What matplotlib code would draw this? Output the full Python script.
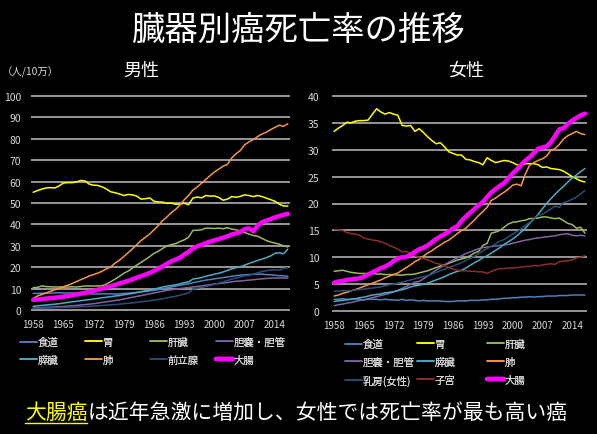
import matplotlib
matplotlib.use('Agg')
import matplotlib.pyplot as plt
from matplotlib.lines import Line2D

plt.rcParams['font.family'] = ['Noto Sans CJK JP', 'DejaVu Sans']

years = list(range(1958, 2018))
tick_years = [1958, 1965, 1972, 1979, 1986, 1993, 2000, 2007, 2014]

# ---------------- Male (人/10万) ----------------
male_esophagus = [7.8, 7.8, 7.9, 7.9, 8.0, 8.0, 8.1, 8.0, 8.0, 8.0,
                  7.9, 7.8, 7.7, 7.6, 7.5, 7.5, 7.6, 7.6, 7.6, 7.5,
                  7.6, 7.8, 7.9, 8.1, 8.3, 8.5, 8.7, 9.0, 9.2, 9.6,
                  10.0, 10.4, 10.8, 11.2, 11.6, 12.0, 12.3, 12.8, 13.2, 13.6,
                  14.0, 14.3, 14.6, 14.9, 15.2, 15.5, 15.8, 16.1, 16.3, 16.5,
                  16.6, 16.7, 16.8, 16.8, 16.6, 16.5, 16.3, 16.1, 16.0, 15.8]
male_stomach = [55.0, 55.8, 56.5, 57.0, 57.2, 57.0, 58.0, 59.3, 59.5, 59.5,
                59.8, 60.5, 60.3, 58.8, 58.3, 58.2, 57.5, 56.5, 55.2, 54.8,
                54.2, 53.5, 54.0, 53.8, 53.2, 51.8, 52.0, 52.4, 50.8, 50.5,
                50.4, 49.8, 50.0, 49.4, 49.5, 49.9, 49.2, 52.3, 52.8, 52.4,
                53.5, 53.2, 53.3, 52.6, 51.3, 51.8, 53.0, 52.7, 53.1, 53.8,
                53.5, 53.0, 53.5, 53.0, 52.3, 51.6, 50.8, 49.5, 48.6, 48.6]
male_liver = [10.5, 10.6, 11.3, 11.0, 10.9, 10.8, 10.8, 10.7, 10.8, 10.9,
              10.8, 11.0, 11.3, 11.3, 11.2, 11.3, 11.4, 12.2, 13.3, 14.5,
              15.8, 17.2, 18.2, 19.6, 21.0, 22.3, 23.6, 25.0, 26.5, 27.5,
              28.8, 30.0, 30.6, 31.0, 32.0, 32.8, 34.0, 37.2, 37.3, 37.5,
              38.3, 38.2, 38.1, 38.3, 38.0, 38.5, 37.8, 37.5, 37.0, 36.2,
              35.5, 34.8, 34.5, 33.5, 32.5, 31.8, 31.3, 30.8, 30.0, 29.5]
male_gallbladder = [1.0, 1.1, 1.2, 1.3, 1.4, 1.5, 1.6, 1.7, 1.9, 2.0,
                    2.2, 2.4, 2.6, 2.8, 3.0, 3.3, 3.6, 3.9, 4.2, 4.5,
                    4.8, 5.2, 5.6, 6.0, 6.4, 6.8, 7.2, 7.6, 8.0, 8.4,
                    8.8, 9.2, 9.5, 9.8, 10.0, 10.3, 10.5, 10.8, 11.0, 11.3,
                    11.6, 11.9, 12.2, 12.4, 12.6, 12.9, 13.2, 13.5, 13.6, 13.8,
                    14.0, 14.2, 14.4, 14.6, 14.8, 14.9, 15.0, 15.0, 15.0, 15.0]
male_pancreas = [1.8, 2.0, 2.2, 2.4, 2.6, 2.8, 3.0, 3.3, 3.6, 3.9,
                 4.1, 4.4, 4.7, 4.9, 5.2, 5.5, 5.8, 6.0, 6.3, 6.6,
                 6.8, 7.2, 7.5, 7.8, 8.2, 8.6, 9.0, 9.4, 9.8, 10.3,
                 10.8, 11.2, 11.5, 11.8, 12.3, 12.8, 13.2, 14.5, 14.8, 15.2,
                 15.8, 16.3, 16.8, 17.2, 17.8, 18.5, 19.3, 19.8, 20.3, 21.0,
                 21.8, 22.5, 23.2, 23.8, 24.5, 25.3, 26.5, 26.8, 26.3, 28.5]
male_lung = [5.5, 6.6, 7.3, 8.0, 8.8, 9.5, 10.2, 10.9, 11.6, 12.4,
             13.3, 14.2, 15.0, 16.0, 16.6, 17.3, 18.2, 19.3, 20.2, 22.0,
             23.3, 25.0, 26.8, 28.6, 30.5, 32.5, 34.0, 35.5, 37.5, 39.5,
             41.8, 43.5, 45.5, 47.0, 49.0, 51.5, 53.5, 56.0, 57.5, 59.2,
             61.0, 62.8, 64.5, 65.8, 67.2, 68.0, 71.0, 73.0, 74.5, 77.2,
             78.5, 79.6, 81.0, 82.2, 83.0, 84.2, 85.3, 86.3, 85.8, 87.0]
male_prostate = [0.8, 0.9, 0.9, 1.0, 1.0, 1.1, 1.2, 1.3, 1.3, 1.4,
                 1.5, 1.6, 1.7, 1.8, 1.9, 2.0, 2.2, 2.3, 2.5, 2.6,
                 2.8, 3.0, 3.2, 3.4, 3.6, 3.9, 4.1, 4.4, 4.7, 5.0,
                 5.3, 5.7, 6.1, 6.5, 7.0, 7.5, 8.0, 9.8, 10.3, 10.6,
                 11.0, 11.5, 12.0, 12.6, 13.2, 13.8, 14.5, 15.0, 15.5, 16.0,
                 16.2, 16.8, 17.5, 18.0, 18.4, 18.8, 18.8, 18.6, 19.5, 19.8]
male_colorectal = [4.8, 5.0, 5.2, 5.4, 5.6, 5.8, 6.0, 6.3, 6.6, 6.9,
                   7.3, 7.7, 8.1, 8.6, 9.0, 9.6, 10.1, 10.6, 11.2, 11.8,
                   12.5, 13.0, 13.7, 14.4, 15.2, 15.9, 16.6, 17.4, 18.3, 19.3,
                   20.5, 21.7, 22.8, 23.6, 24.5, 26.0, 27.2, 28.8, 29.8, 30.5,
                   31.3, 32.0, 32.6, 33.2, 33.8, 34.5, 35.3, 35.8, 36.5, 37.8,
                   38.2, 36.8, 39.5, 41.0, 41.8, 42.5, 43.3, 43.9, 44.5, 45.0]

# ---------------- Female (人/10万) ----------------
female_esophagus = [2.2, 2.2, 2.3, 2.2, 2.2, 2.3, 2.2, 2.1, 2.2, 2.2,
                    2.2, 2.1, 2.2, 2.1, 2.1, 2.0, 2.2, 2.0, 2.1, 2.0,
                    1.9, 2.0, 1.9, 1.9, 1.9, 1.9, 1.8, 1.8, 1.8, 1.9,
                    1.9, 1.9, 2.0, 2.0, 2.0, 2.1, 2.1, 2.2, 2.2, 2.3,
                    2.4, 2.4, 2.5, 2.5, 2.6, 2.6, 2.7, 2.6, 2.7, 2.7,
                    2.8, 2.8, 2.8, 2.9, 2.9, 2.9, 3.0, 3.0, 3.0, 3.0]
female_stomach = [33.4, 34.0, 34.5, 35.1, 35.0, 35.3, 35.4, 35.4, 35.5, 36.6,
                  37.6, 37.0, 36.6, 36.9, 36.6, 36.4, 34.5, 34.4, 34.5, 33.4,
                  33.9, 33.2, 32.4, 31.7, 31.1, 31.3, 30.5, 29.6, 29.3, 29.0,
                  29.0, 28.2, 28.1, 27.8, 27.6, 27.2, 28.5, 28.0, 27.6, 27.8,
                  28.0, 27.9, 27.6, 27.2, 27.0, 27.4, 27.4, 27.4, 27.2, 26.7,
                  26.8, 26.5, 26.4, 26.3, 26.0, 25.5, 25.0, 24.6, 24.2, 24.0]
female_liver = [7.4, 7.5, 7.6, 7.4, 7.2, 7.1, 7.0, 7.0, 7.0, 7.0,
                6.9, 6.9, 6.8, 6.8, 6.8, 6.7, 6.7, 6.8, 6.8, 6.9,
                7.1, 7.3, 7.5, 7.8, 8.1, 8.4, 8.6, 8.9, 9.2, 9.5,
                9.7, 9.9, 10.3, 10.8, 11.1, 12.2, 12.6, 14.5, 14.7, 15.0,
                15.6, 16.2, 16.5, 16.6, 16.8, 16.9, 17.2, 17.2, 17.3, 17.5,
                17.5, 17.3, 17.2, 17.3, 16.8, 16.3, 16.1, 15.4, 15.6, 14.5]
female_gallbladder = [1.0, 1.2, 1.3, 1.5, 1.6, 1.8, 2.0, 2.1, 2.3, 2.5,
                      2.7, 2.9, 3.1, 3.3, 3.6, 3.9, 4.2, 4.6, 5.0, 5.4,
                      5.5, 6.0, 6.5, 7.1, 7.6, 8.1, 8.6, 9.1, 9.5, 9.9,
                      10.3, 10.7, 11.0, 11.3, 11.6, 11.8, 11.9, 12.0, 12.1, 12.2,
                      12.3, 12.4, 12.6, 12.8, 13.0, 13.2, 13.3, 13.5, 13.6, 13.7,
                      13.8, 13.9, 14.0, 14.2, 14.3, 14.4, 14.1, 14.0, 14.1, 14.0]
female_pancreas = [1.8, 1.9, 2.0, 2.1, 2.2, 2.3, 2.5, 2.6, 2.8, 3.0,
                   3.1, 3.2, 3.4, 3.5, 3.6, 3.8, 4.0, 4.2, 4.5, 4.7,
                   4.8, 5.0, 5.2, 5.5, 5.8, 6.1, 6.4, 6.8, 7.1, 7.4,
                   7.6, 8.0, 8.5, 9.0, 9.4, 9.9, 10.3, 10.8, 11.3, 11.8,
                   12.4, 12.9, 13.4, 14.0, 14.7, 15.4, 16.3, 17.1, 18.0, 19.0,
                   20.0, 20.9, 21.7, 22.5, 23.2, 24.0, 24.7, 25.3, 25.9, 26.5]
female_lung = [2.8, 3.0, 3.3, 3.5, 3.8, 4.0, 4.3, 4.6, 4.9, 5.2,
               5.5, 5.8, 6.2, 6.5, 6.8, 7.1, 7.6, 8.1, 8.6, 9.2,
               9.6, 10.2, 10.8, 11.2, 11.8, 12.3, 12.8, 13.2, 13.8, 14.4,
               15.0, 15.4, 16.2, 16.9, 17.8, 18.5, 19.3, 20.6, 21.0, 21.6,
               22.1, 22.7, 23.4, 23.6, 23.3, 25.5, 27.1, 27.6, 28.0, 28.3,
               28.8, 29.9, 30.2, 31.0, 32.0, 32.6, 33.0, 33.4, 33.0, 32.8]
female_breast = [3.7, 3.7, 3.8, 3.8, 3.8, 3.9, 4.0, 4.1, 4.2, 4.3,
                 4.4, 4.5, 4.7, 4.9, 5.0, 5.2, 5.4, 5.6, 5.8, 6.0,
                 6.2, 6.4, 6.6, 6.9, 7.2, 7.5, 7.8, 8.1, 8.4, 8.7,
                 9.0, 9.4, 9.8, 10.2, 10.7, 11.2, 11.6, 12.1, 12.5, 13.0,
                 13.3, 13.8, 14.3, 14.8, 15.3, 15.9, 16.5, 17.1, 17.8, 18.0,
                 18.5, 19.0, 19.5, 19.3, 20.2, 20.4, 20.8, 21.2, 21.8, 22.4]
female_uterus = [15.2, 15.1, 15.0, 14.6, 14.4, 14.3, 14.1, 13.6, 13.4, 13.2,
                 13.1, 12.9, 12.6, 12.2, 11.9, 11.5, 11.0, 11.1, 10.7, 10.3,
                 10.0, 9.8, 9.5, 9.2, 8.9, 8.7, 8.4, 8.1, 7.8, 7.6,
                 7.5, 7.5, 7.4, 7.4, 7.3, 7.3, 7.0, 7.4, 7.7, 7.9,
                 7.9, 8.0, 8.0, 8.1, 8.2, 8.3, 8.3, 8.5, 8.4, 8.6,
                 8.7, 8.8, 8.7, 9.2, 9.3, 9.4, 9.5, 9.9, 10.0, 10.3]
female_colorectal = [5.3, 5.5, 5.6, 5.8, 5.9, 6.0, 6.1, 6.4, 6.8, 7.2,
                     7.6, 8.0, 8.3, 8.7, 9.3, 9.8, 10.0, 10.1, 10.5, 11.0,
                     11.5, 11.8, 12.2, 12.8, 13.4, 13.9, 14.3, 14.8, 15.4, 15.8,
                     16.8, 17.6, 18.3, 19.0, 19.7, 20.3, 21.2, 22.1, 22.7, 23.3,
                     23.8, 24.7, 25.6, 26.3, 27.2, 28.0, 28.6, 29.4, 30.2, 30.4,
                     30.6, 31.4, 32.6, 33.8, 34.0, 34.8, 35.4, 35.9, 36.4, 36.7]

male_series = [
    ('食道', male_esophagus, '#4F81BD', 1.1),
    ('胃', male_stomach, '#FFFF00', 1.1),
    ('肝臓', male_liver, '#9BBB59', 1.1),
    ('胆嚢・胆管', male_gallbladder, '#8064A2', 1.1),
    ('膵臓', male_pancreas, '#4BACC6', 1.1),
    ('肺', male_lung, '#F79646', 1.1),
    ('前立腺', male_prostate, '#2C4D7A', 1.1),
    ('大腸', male_colorectal, '#FF00FF', 3.2),
]
female_series = [
    ('食道', female_esophagus, '#4F81BD', 1.1),
    ('胃', female_stomach, '#FFFF00', 1.1),
    ('肝臓', female_liver, '#9BBB59', 1.1),
    ('胆嚢・胆管', female_gallbladder, '#8064A2', 1.1),
    ('膵臓', female_pancreas, '#4BACC6', 1.1),
    ('肺', female_lung, '#F79646', 1.1),
    ('乳房(女性)', female_breast, '#2C4D7A', 1.1),
    ('子宮', female_uterus, '#8B2F2C', 1.1),
    ('大腸', female_colorectal, '#FF00FF', 3.2),
]

for _, vals, _, _ in male_series + female_series:
    assert len(vals) == len(years)

BG = 'black'
TXT = '#D9D9D9'
W, H = 597, 435

fig = plt.figure(figsize=(W / 100, H / 100), dpi=100, facecolor=BG)
axL = fig.add_axes([31 / W, 1 - 312 / H, 259 / W, 216 / H])
axR = fig.add_axes([332 / W, 1 - 313 / H, 255 / W, 217 / H])


def style(ax, ymax, step, ypad):
    ax.set_facecolor(BG)
    for s in ax.spines.values():
        s.set_visible(False)
    ax.set_xlim(-0.5, len(years) - 0.5)
    ax.set_ylim(-ymax * 0.004, ymax * 1.004)
    ax.set_yticks(list(range(0, ymax + 1, step)))
    ax.yaxis.grid(True, color='#B0B0B0', lw=1.2)
    ax.set_axisbelow(True)
    ax.set_xticks([years.index(y) for y in tick_years])
    ax.set_xticklabels([str(y) for y in tick_years])
    ax.tick_params(axis='both', length=0, colors=TXT, labelsize=7)
    ax.tick_params(axis='y', pad=ypad, labelsize=7.5)
    ax.tick_params(axis='x', pad=6)


x = list(range(len(years)))
handlesL = []
for name, vals, c, lw in male_series:
    ln, = axL.plot(x, vals, color=c, lw=lw, label=name, solid_capstyle='round')
    handlesL.append(ln)
handlesR = []
for name, vals, c, lw in female_series:
    ln, = axR.plot(x, vals, color=c, lw=lw, label=name, solid_capstyle='round')
    handlesR.append(ln)

style(axL, 100, 10, 7)
style(axR, 40, 5, 9)


def col_legend(handles, xpx, ypx_top):
    leg = fig.legend(handles, [h.get_label() for h in handles],
                     loc='upper left', bbox_to_anchor=(xpx / W, 1 - ypx_top / H),
                     frameon=False, fontsize=7.5, labelcolor=TXT,
                     handlelength=1.6, handletextpad=0.1, borderpad=0,
                     borderaxespad=0, labelspacing=0.75)
    fig.add_artist(leg)


# male legend: 4 columns x 2 rows
colsL = [(20, [0, 4]), (85, [1, 5]), (150, [2, 6]), (216, [3, 7])]
for xp, idx in colsL:
    col_legend([handlesL[i] for i in idx], xp, 338)
# female legend: 3 columns x 3 rows
colsR = [(345, [0, 3, 6]), (417, [1, 4, 7]), (487, [2, 5, 8])]
for xp, idx in colsR:
    col_legend([handlesR[i] for i in idx], xp, 340)

fig.text(0.5, 1 - 30 / H, '臓器別癌死亡率の推移', ha='center', va='center',
         color='white', fontsize=24)
fig.text(2 / W, 1 - 72 / H, '（人/10万）', ha='left', va='center', color=TXT, fontsize=7.5)
fig.text(141 / W, 1 - 71 / H, '男性', ha='center', va='center', color='white', fontsize=13)
fig.text(466 / W, 1 - 71 / H, '女性', ha='center', va='center', color='white', fontsize=13)

fig.text(25 / W, 1 - 413 / H, '大腸癌', ha='left', va='center', color='#FFFF00', fontsize=15)
fig.text(88 / W, 1 - 413 / H, 'は近年急激に増加し、女性では死亡率が最も高い癌',
         ha='left', va='center', color='white', fontsize=15)
fig.add_artist(Line2D([25 / W, 87 / W], [1 - 424 / H, 1 - 424 / H], color='#FFFF00',
                      lw=1.0, transform=fig.transFigure))

fig.savefig('out.png', dpi=100, facecolor=BG)
